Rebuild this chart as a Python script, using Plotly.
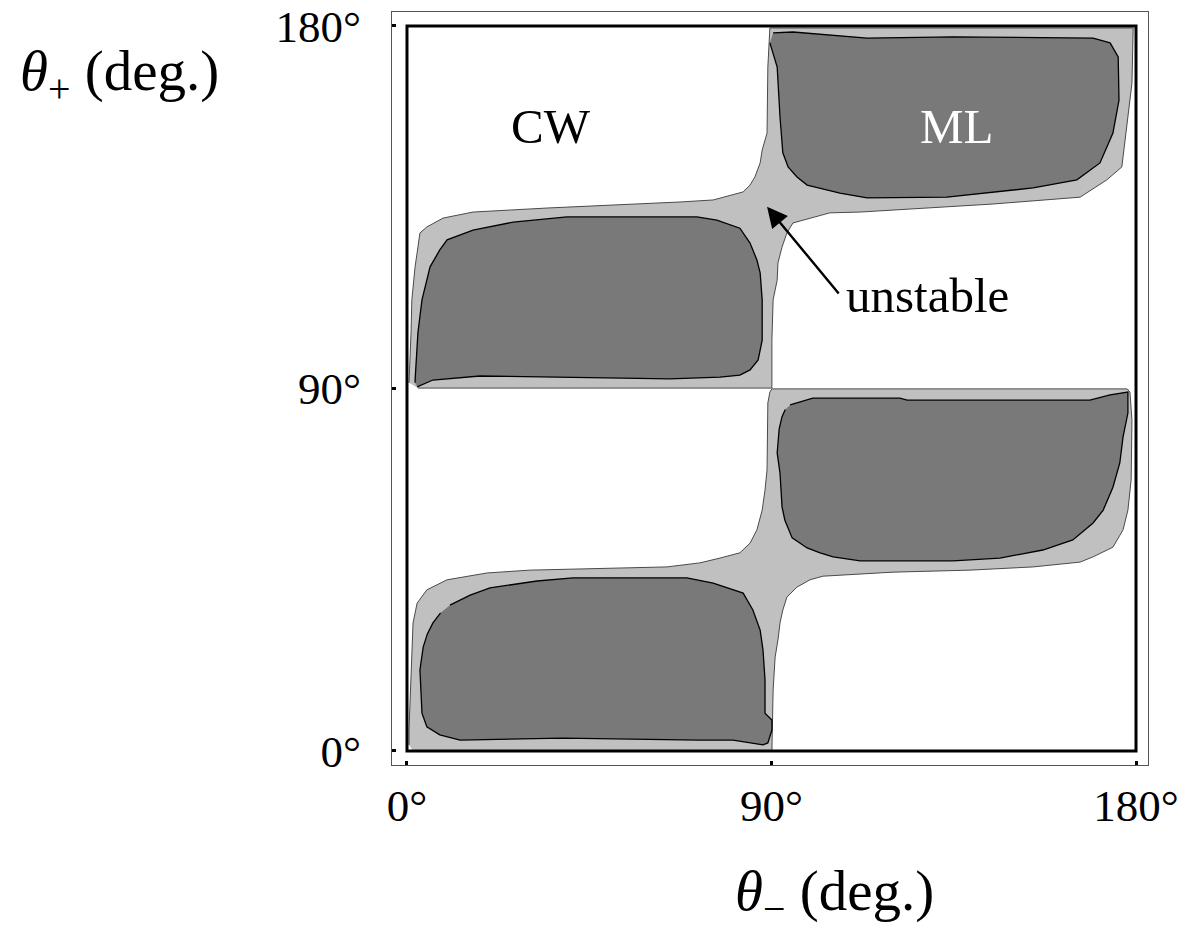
import plotly.graph_objects as go

# ---- data: region outlines in degrees (theta_minus, theta_plus) ----
upper_light_x = [2.7, 90.1, 90.1, 90.4, 91.4, 91.6, 92.6, 93.8, 95.3, 99.5, 104.4, 111.9, 124.9, 144.7,
                 166.2, 172.8, 176.5, 178.0, 179.0, 179.3, 89.6, 89.1, 88.9, 87.7, 87.2, 85.9, 84.7,
                 83.0, 79.8, 75.6, 67.4, 55.1, 34.6, 16.3, 8.9, 4.9, 3.2, 2.0, 1.2, 1.0, 0.5]
upper_light_y = [90.1, 90.1, 102.0, 112.0, 116.9, 121.2, 125.1, 128.6, 131.1, 132.3, 133.6, 133.8, 134.6, 135.8,
                 137.5, 141.8, 145.0, 157.4, 165.8, 179.5, 179.5, 169.8, 153.4, 149.2, 146.0, 142.5, 140.5,
                 138.8, 138.0, 136.8, 136.3, 135.8, 134.8, 133.8, 132.3, 130.1, 128.6, 120.2, 112.0, 103.8, 91.4]

lower_light_x = [1.5, 90.1, 90.4, 90.9, 91.6, 92.1, 92.8, 93.8, 96.3, 99.5, 102.7, 107.7, 120.0, 139.0,
                 154.6, 166.2, 169.4, 174.3, 176.8, 178.0, 178.8, 179.0, 178.5, 177.8, 90.1, 89.6, 89.1,
                 88.9, 88.4, 87.7, 86.4, 84.7, 82.2, 77.3, 72.3, 64.2, 46.9, 30.4, 19.8, 9.9, 4.9, 2.5,
                 1.5, 1.2, 0.7, 0.5, 0.5]
lower_light_y = [0.0, 0.0, 15.1, 23.3, 27.6, 31.8, 35.0, 38.2, 40.7, 42.5, 43.4, 43.7, 44.4, 44.9,
                 45.7, 46.9, 48.2, 50.6, 54.9, 59.8, 67.3, 82.2, 89.1, 89.9, 89.9, 89.1, 86.4,
                 69.8, 64.8, 59.8, 54.9, 51.6, 49.2, 47.9, 46.7, 45.7, 45.2, 44.9, 44.2, 42.5, 40.0, 36.7,
                 31.8, 24.3, 12.7, 5.2, 1.5]

ul_dark_x = [2.0, 2.0, 2.7, 3.7, 5.7, 8.1, 9.9, 16.3, 26.2, 39.5, 71.6, 76.5, 82.2, 84.7, 86.4, 87.2,
             87.7, 87.7, 86.7, 84.7, 82.2, 77.3, 64.9, 41.0, 18.0, 6.4, 2.5]
ul_dark_y = [91.4, 92.1, 103.8, 112.0, 120.2, 124.4, 126.9, 129.3, 131.3, 132.6, 132.6, 131.8, 129.8, 126.1, 121.9, 118.7,
             112.0, 102.0, 97.1, 94.6, 93.3, 92.8, 92.4, 92.8, 93.1, 92.1, 90.4]

ur_dark_x = [90.4, 95.3, 113.6, 134.8, 169.4, 173.6, 175.6, 175.8, 174.3, 171.1, 165.4, 154.6, 133.3, 113.6,
             106.9, 103.7, 98.8, 96.3, 94.1, 92.8, 92.1, 91.4, 89.6]
ur_dark_y = [178.3, 178.5, 177.0, 177.3, 177.0, 175.8, 172.3, 161.6, 153.4, 146.0, 141.8, 139.8, 137.5, 137.3,
             138.5, 139.3, 140.5, 142.5, 145.0, 148.5, 157.4, 169.8, 175.8]

ll_dark_x = [10.6, 15.6, 20.5, 32.1, 41.0, 69.1, 75.6, 83.0, 85.4, 87.2, 87.9, 88.4, 88.4, 90.1, 90.1, 89.1,
             87.9, 80.5, 72.3, 38.5, 13.1, 8.1, 4.9, 3.7, 3.2, 4.0, 5.0, 6.4, 8.3]
ll_dark_y = [36.2, 38.7, 40.5, 42.2, 43.0, 43.0, 41.7, 39.2, 35.0, 30.0, 25.1, 17.6, 9.4, 7.7, 5.2, 2.0,
             1.5, 2.7, 2.7, 3.2, 2.7, 4.0, 6.0, 9.4, 20.1, 25.8, 29.0, 31.8, 34.3]

lr_dark_x = [94.6, 100.2, 121.7, 123.5, 168.6, 173.6, 178.0, 178.0, 176.8, 176.0, 174.3, 171.9, 169.4, 164.4,
             157.0, 146.4, 134.8, 111.9, 105.2, 102.0, 98.8, 95.1, 93.3, 92.6, 92.1, 91.4, 91.9, 92.6, 93.4]
lr_dark_y = [85.9, 87.6, 87.6, 87.1, 87.1, 88.4, 89.1, 83.9, 78.0, 71.5, 65.5, 59.8, 56.6, 52.4,
             49.9, 47.9, 47.2, 47.2, 48.2, 49.2, 50.4, 52.9, 57.3, 60.6, 69.0, 74.0, 80.0, 83.0, 84.8]

tick_vals = [0, 90, 180]
tick_text = ["0°", "90°", "180°"]

FONT = "Liberation Serif, Times New Roman, serif"
LIGHT = "#c0c0c0"
DARK = "#797979"

fig = go.Figure()

for xs, ys in [(upper_light_x, upper_light_y), (lower_light_x, lower_light_y)]:
    fig.add_trace(go.Scatter(x=xs, y=ys, mode="lines", fill="toself", fillcolor=LIGHT,
                             line=dict(color="#4a4a4a", width=1), hoverinfo="skip", showlegend=False))
for xs, ys in [(ul_dark_x, ul_dark_y), (ur_dark_x, ur_dark_y), (ll_dark_x, ll_dark_y), (lr_dark_x, lr_dark_y)]:
    fig.add_trace(go.Scatter(x=xs, y=ys, mode="lines", fill="toself", fillcolor=DARK,
                             line=dict(color="black", width=1.3), hoverinfo="skip", showlegend=False))

# inner frame 0..180
fig.add_shape(type="rect", x0=0, x1=180, y0=0, y1=180, xref="x", yref="y",
              line=dict(color="black", width=3), layer="above")

ann = []
ann.append(dict(x=35.5, y=155.0, xref="x", yref="y", text="CW", showarrow=False,
                font=dict(family=FONT, size=49, color="black")))
ann.append(dict(x=135.8, y=155.0, xref="x", yref="y", text="ML", showarrow=False,
                font=dict(family=FONT, size=49, color="white")))
ann.append(dict(x=108.0, y=113.2, xref="x", yref="y", text="unstable", showarrow=False,
                xanchor="left", yanchor="middle", font=dict(family=FONT, size=49, color="black")))
ann.append(dict(x=88.9, y=135.1, xref="x", yref="y", ax=106.9, ay=113.2, axref="x", ayref="y",
                text="", showarrow=True, arrowhead=2, arrowsize=1.7, arrowwidth=2.4,
                arrowcolor="black", standoff=0, startstandoff=0))
ann.append(dict(x=-0.4947, y=0.916, xref="paper", yref="paper", xanchor="left", yanchor="middle",
                text="<i>θ</i><sub>+</sub> (deg.)", showarrow=False,
                font=dict(family=FONT, size=57, color="black")))
ann.append(dict(x=0.5847, y=-0.1726, xref="paper", yref="paper", xanchor="center", yanchor="middle",
                text="<i>θ</i><sub>−</sub> (deg.)", showarrow=False,
                font=dict(family=FONT, size=57, color="black")))

axis_common = dict(tickvals=tick_vals, ticktext=tick_text, ticks="inside", ticklen=4, tickwidth=3,
                   tickcolor="black", showline=True, mirror=True, linecolor="#555555", linewidth=1,
                   showgrid=False, zeroline=False, automargin=False,
                   tickfont=dict(family=FONT, size=45, color="black"))

fig.update_layout(
    width=1188, height=930,
    margin=dict(l=392, r=40, t=12, b=165),
    paper_bgcolor="white", plot_bgcolor="white",
    xaxis=dict(range=[-3.70, 182.96], ticklabelstandoff=1, **axis_common),
    yaxis=dict(range=[-3.48, 183.47], ticklabelstandoff=21, **axis_common),
    annotations=ann,
    showlegend=False,
)

fig.write_html("out.html")
